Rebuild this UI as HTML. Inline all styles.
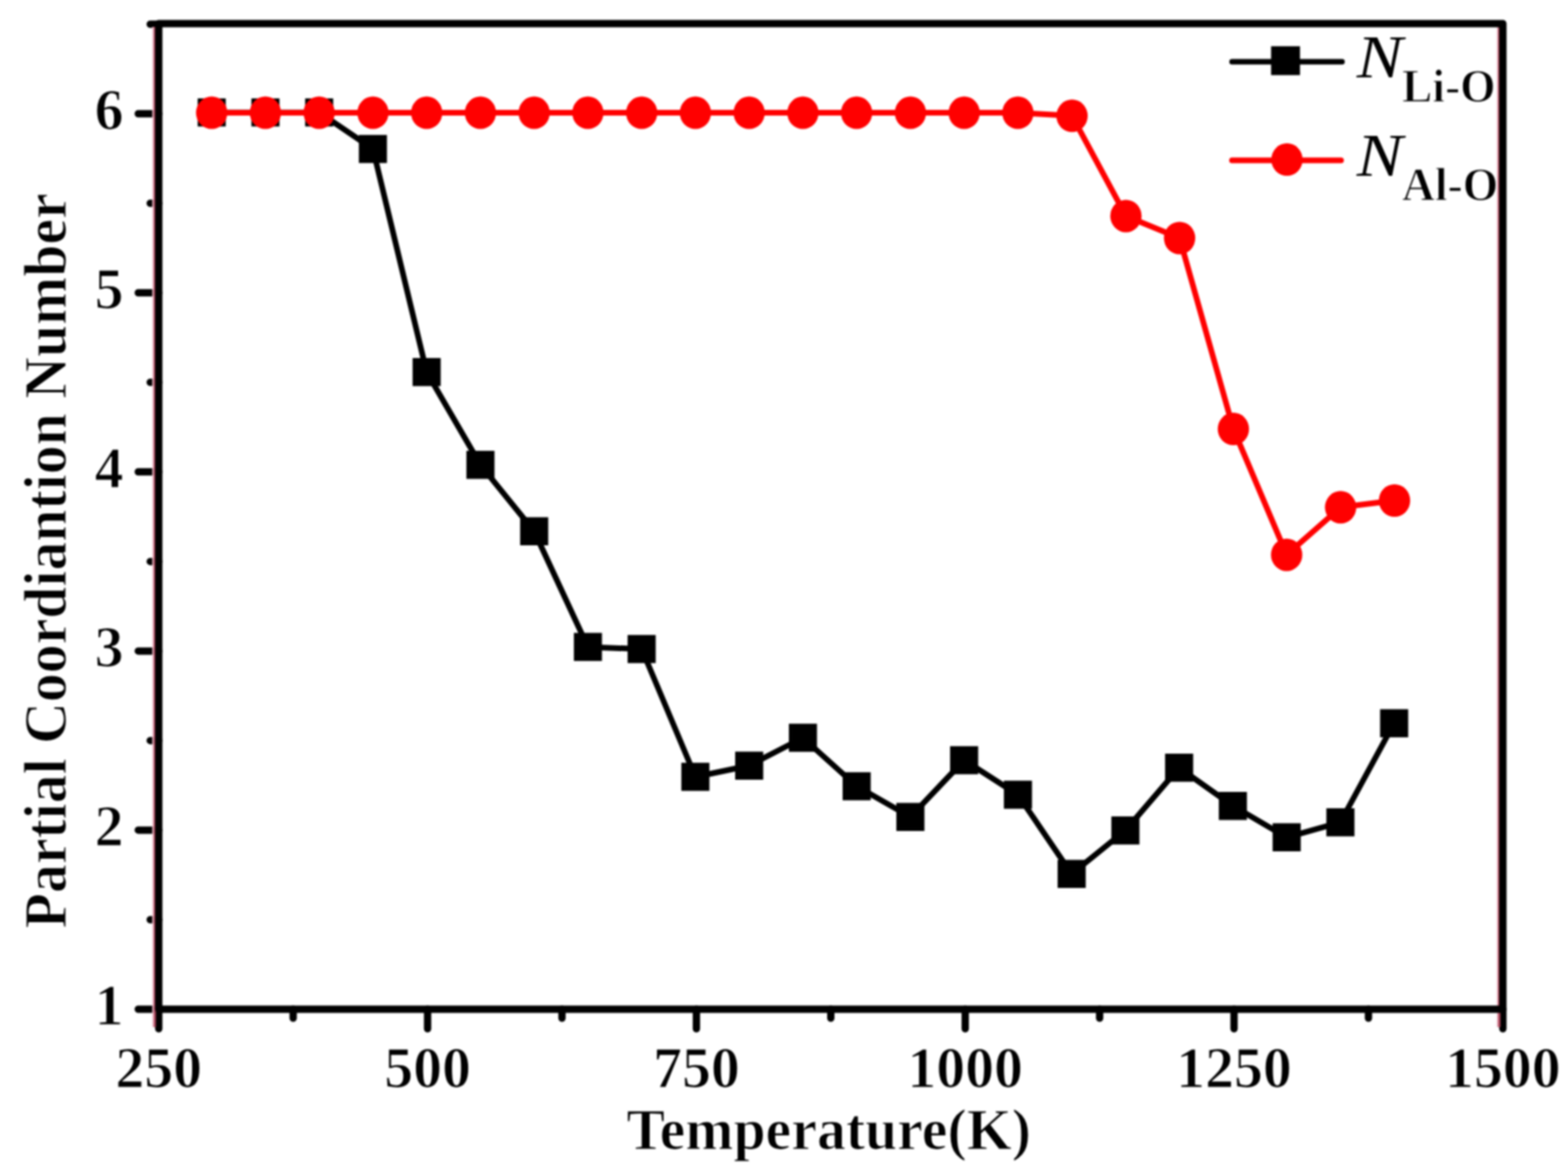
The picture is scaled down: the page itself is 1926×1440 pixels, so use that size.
<!DOCTYPE html>
<html><head><meta charset="utf-8"><title>Partial Coordination Number</title><style>
html,body{margin:0;padding:0;background:#fff;width:1926px;height:1440px;overflow:hidden}
svg{display:block;filter:blur(1px)}
text{font-family:"Liberation Serif","Times New Roman",serif;fill:#000;stroke:#fff;stroke-width:1.2px}
.b{font-weight:bold}
</style></head><body>
<svg width="1926" height="1440" viewBox="0 0 1926 1440">
<rect width="1926" height="1440" fill="#fff"/>
<path d="M195,1240H169.8M195,1019.9H169.8M195,799.9H169.8M195,579.8H169.8M195,359.8H169.8M195,139.7H169.8M195,1130H184.5M195,909.9H184.5M195,689.9H184.5M195,469.8H184.5M195,249.7H184.5M195,29.7H184.5M195,1240V1264M525.2,1240V1264M855.4,1240V1264M1185.6,1240V1264M1515.8,1240V1264M1846,1240V1264M360.1,1240V1251M690.3,1240V1251M1020.5,1240V1251M1350.7,1240V1251M1680.9,1240V1251" stroke="#000" stroke-width="9" stroke-linecap="round" fill="none"/>
<path d="M190,1262V33M1841.5,1262V33" stroke="#b04a60" stroke-width="3" fill="none"/>
<path d="M187.8,1262V33M1839.3,1262V33" stroke="#f0c0cc" stroke-width="1.6" fill="none"/>
<path d="M195,1240V29H1846V1240Z" stroke="#000" stroke-width="9" stroke-linejoin="round" fill="none"/>
<polyline points="260,138.2 326,138.2 392,138.2 458.1,183 524.1,457.2 590.1,571.1 656.1,652.8 722.1,794.9 788.2,797.5 854.2,954.5 920.2,940.7 986.2,906.5 1052.2,966 1118.3,1003.7 1184.3,934 1250.3,976.5 1316.3,1073.7 1382.3,1020.4 1448.4,943.3 1514.4,990.2 1580.4,1028.8 1646.4,1010.4 1712.4,888.6" stroke="#000" stroke-width="7" fill="none" stroke-linejoin="round"/>
<rect x="242.8" y="120.9" width="34.5" height="34.5" fill="#000"/>
<rect x="308.8" y="120.9" width="34.5" height="34.5" fill="#000"/>
<rect x="374.8" y="120.9" width="34.5" height="34.5" fill="#000"/>
<rect x="440.8" y="165.8" width="34.5" height="34.5" fill="#000"/>
<rect x="506.8" y="439.9" width="34.5" height="34.5" fill="#000"/>
<rect x="572.9" y="553.9" width="34.5" height="34.5" fill="#000"/>
<rect x="638.9" y="635.5" width="34.5" height="34.5" fill="#000"/>
<rect x="704.9" y="777.6" width="34.5" height="34.5" fill="#000"/>
<rect x="770.9" y="780.2" width="34.5" height="34.5" fill="#000"/>
<rect x="836.9" y="937.2" width="34.5" height="34.5" fill="#000"/>
<rect x="903" y="923.5" width="34.5" height="34.5" fill="#000"/>
<rect x="969" y="889.2" width="34.5" height="34.5" fill="#000"/>
<rect x="1035" y="948.8" width="34.5" height="34.5" fill="#000"/>
<rect x="1101" y="986.5" width="34.5" height="34.5" fill="#000"/>
<rect x="1167" y="916.8" width="34.5" height="34.5" fill="#000"/>
<rect x="1233.1" y="959.2" width="34.5" height="34.5" fill="#000"/>
<rect x="1299.1" y="1056.5" width="34.5" height="34.5" fill="#000"/>
<rect x="1365.1" y="1003.1" width="34.5" height="34.5" fill="#000"/>
<rect x="1431.1" y="926" width="34.5" height="34.5" fill="#000"/>
<rect x="1497.1" y="973" width="34.5" height="34.5" fill="#000"/>
<rect x="1563.2" y="1011.5" width="34.5" height="34.5" fill="#000"/>
<rect x="1629.2" y="993.1" width="34.5" height="34.5" fill="#000"/>
<rect x="1695.2" y="871.4" width="34.5" height="34.5" fill="#000"/>
<polyline points="260,138.6 326,138.6 392,138.6 458.1,138.6 524.1,138.6 590.1,138.6 656.1,138.6 722.1,138.6 788.2,138.6 854.2,138.6 920.2,138.6 986.2,138.6 1052.2,138.6 1118.3,138.6 1184.3,138.6 1250.3,138.6 1316.8,142.3 1383,265.4 1448.9,292.5 1515,527.1 1580.4,681.7 1646.7,623.3 1712.9,615" stroke="#f00" stroke-width="7" fill="none" stroke-linejoin="round"/>
<ellipse cx="260" cy="138.6" rx="19.25" ry="20" fill="#f00"/>
<ellipse cx="326" cy="138.6" rx="19.25" ry="20" fill="#f00"/>
<ellipse cx="392" cy="138.6" rx="19.25" ry="20" fill="#f00"/>
<ellipse cx="458.1" cy="138.6" rx="19.25" ry="20" fill="#f00"/>
<ellipse cx="524.1" cy="138.6" rx="19.25" ry="20" fill="#f00"/>
<ellipse cx="590.1" cy="138.6" rx="19.25" ry="20" fill="#f00"/>
<ellipse cx="656.1" cy="138.6" rx="19.25" ry="20" fill="#f00"/>
<ellipse cx="722.1" cy="138.6" rx="19.25" ry="20" fill="#f00"/>
<ellipse cx="788.2" cy="138.6" rx="19.25" ry="20" fill="#f00"/>
<ellipse cx="854.2" cy="138.6" rx="19.25" ry="20" fill="#f00"/>
<ellipse cx="920.2" cy="138.6" rx="19.25" ry="20" fill="#f00"/>
<ellipse cx="986.2" cy="138.6" rx="19.25" ry="20" fill="#f00"/>
<ellipse cx="1052.2" cy="138.6" rx="19.25" ry="20" fill="#f00"/>
<ellipse cx="1118.3" cy="138.6" rx="19.25" ry="20" fill="#f00"/>
<ellipse cx="1184.3" cy="138.6" rx="19.25" ry="20" fill="#f00"/>
<ellipse cx="1250.3" cy="138.6" rx="19.25" ry="20" fill="#f00"/>
<ellipse cx="1316.8" cy="142.3" rx="19.25" ry="20" fill="#f00"/>
<ellipse cx="1383" cy="265.4" rx="19.25" ry="20" fill="#f00"/>
<ellipse cx="1448.9" cy="292.5" rx="19.25" ry="20" fill="#f00"/>
<ellipse cx="1515" cy="527.1" rx="19.25" ry="20" fill="#f00"/>
<ellipse cx="1580.4" cy="681.7" rx="19.25" ry="20" fill="#f00"/>
<ellipse cx="1646.7" cy="623.3" rx="19.25" ry="20" fill="#f00"/>
<ellipse cx="1712.9" cy="615" rx="19.25" ry="20" fill="#f00"/>
<text class="b" x="134" y="1259" font-size="71" text-anchor="middle">1</text>
<text class="b" x="134" y="1038.9" font-size="71" text-anchor="middle">2</text>
<text class="b" x="134" y="818.9" font-size="71" text-anchor="middle">3</text>
<text class="b" x="134" y="598.8" font-size="71" text-anchor="middle">4</text>
<text class="b" x="134" y="378.8" font-size="71" text-anchor="middle">5</text>
<text class="b" x="134" y="158.7" font-size="71" text-anchor="middle">6</text>
<text class="b" x="195" y="1336" font-size="71" text-anchor="middle">250</text>
<text class="b" x="525.2" y="1336" font-size="71" text-anchor="middle">500</text>
<text class="b" x="855.4" y="1336" font-size="71" text-anchor="middle">750</text>
<text class="b" x="1185.6" y="1336" font-size="71" text-anchor="middle">1000</text>
<text class="b" x="1515.8" y="1336" font-size="71" text-anchor="middle">1250</text>
<text class="b" x="1846" y="1336" font-size="71" text-anchor="middle">1500</text>
<text class="b" x="769.4" y="1411.6" font-size="71">Temperature(K)</text>
<text class="b" transform="translate(80.8,1140.7) rotate(-90) scale(1,1.03)" font-size="71">Partial Coordiantion Number</text>
<path d="M1513.3,75.9H1648.5" stroke="#000" stroke-width="6.6" stroke-linecap="round"/>
<rect x="1561.3" y="56.8" width="35.5" height="35.5" fill="#000"/>
<path d="M1513.3,197H1647.2" stroke="#f00" stroke-width="7" stroke-linecap="round"/>
<ellipse cx="1580.8" cy="196.1" rx="19.25" ry="20" fill="#f00"/>
<text transform="translate(1666.5,95) scale(1.13,1)" font-size="75" font-style="italic" style="stroke:none">N</text>
<text class="b" x="1722" y="124.5" font-size="56">Li-O</text>
<text transform="translate(1666.5,216.3) scale(1.13,1)" font-size="75" font-style="italic" style="stroke:none">N</text>
<text class="b" x="1722" y="246.4" font-size="56">Al-O</text>
</svg></body></html>
